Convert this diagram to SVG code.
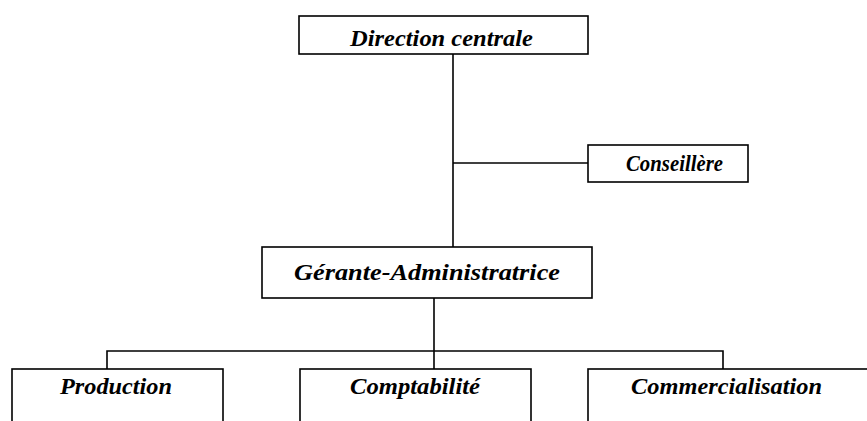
<svg xmlns="http://www.w3.org/2000/svg" width="867" height="421" viewBox="0 0 867 421">
  <style>
    .box { fill: #ffffff; stroke: #000000; stroke-width: 1.6; }
    .link { fill: none; stroke: #000000; stroke-width: 1.6; }
    .label { font-family: "Liberation Serif", "DejaVu Serif", serif; font-style: italic; font-weight: bold; font-size: 23px; fill: #000000; }
  </style>
  <rect x="0" y="0" width="867" height="421" fill="#ffffff"/>

  <!-- connectors -->
  <g id="connectors">
    <path class="link" d="M453,54 V247"/>
    <path class="link" d="M453,163 H588"/>
    <path class="link" d="M434,298 V351"/>
    <path class="link" d="M107,369 V351 H723 V369"/>
    <path class="link" d="M434,351 V369"/>
  </g>

  <g id="direction-centrale">
    <rect class="box" x="299" y="16" width="289" height="38"/>
    <text class="label" x="350" y="46" textLength="183" lengthAdjust="spacingAndGlyphs">Direction centrale</text>
  </g>

  <g id="conseillere">
    <rect class="box" x="588" y="145" width="160" height="37"/>
    <text class="label" x="626" y="171" textLength="97" lengthAdjust="spacingAndGlyphs">Conseillère</text>
  </g>

  <g id="gerante-administratrice">
    <rect class="box" x="262" y="247" width="330" height="51"/>
    <text class="label" x="294" y="280" textLength="266" lengthAdjust="spacingAndGlyphs">Gérante-Administratrice</text>
  </g>

  <g id="production">
    <rect class="box" x="12" y="369" width="211" height="60"/>
    <text class="label" x="60" y="394" textLength="112" lengthAdjust="spacingAndGlyphs">Production</text>
  </g>

  <g id="comptabilite">
    <rect class="box" x="300" y="369" width="231" height="60"/>
    <text class="label" x="350" y="394" textLength="130" lengthAdjust="spacingAndGlyphs">Comptabilité</text>
  </g>

  <g id="commercialisation">
    <rect class="box" x="588" y="369" width="290" height="60"/>
    <text class="label" x="631" y="394" textLength="191" lengthAdjust="spacingAndGlyphs">Commercialisation</text>
  </g>
</svg>
